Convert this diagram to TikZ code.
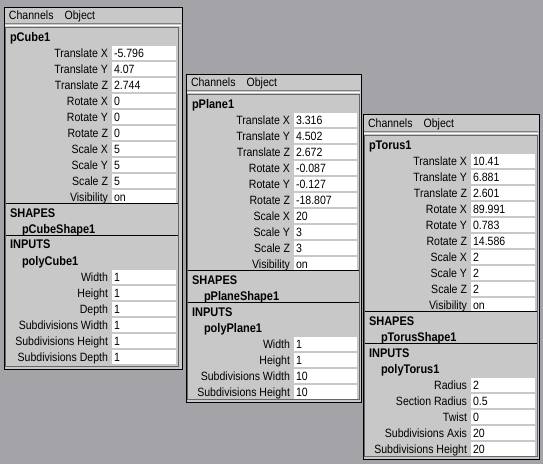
\documentclass[tikz,border=0pt]{standalone}
\usepackage{fontspec}
\setmainfont{Liberation Sans}[FakeStretch=0.88]
\usetikzlibrary{positioning}
\definecolor{DeskGray}{RGB}{163,163,168}
\definecolor{PanelGray}{RGB}{200,200,200}

\begin{document}
\begin{tikzpicture}[x=1pt,y=-1pt, font=\fontsize{12}{14}\selectfont,
    every node/.style={inner sep=0pt, outer sep=0pt},
    chanlabel/.style={anchor=base east},
    chanvalue/.style={anchor=base west},
    menutext/.style={anchor=base west},
    boldname/.style={anchor=base west, font=\fontsize{12.5}{14}\selectfont\bfseries},
    panelbox/.style={fill=PanelGray, draw=black, line width=1pt},
    menurule/.style={draw=black!50, line width=1pt},
    insetbox/.style={draw=black!60, line width=1pt},
    rule/.style={draw=black, line width=1pt}]
  % Desktop background
  \fill[DeskGray] (0,0) rectangle (543,464);
  \useasboundingbox (0,0) rectangle (543,464);

  % Channel box of the cube
  \begin{scope}[shift={(4,7)}]
    \draw[panelbox] (0,0) rectangle (178,362);
    \node[menutext] (ch1) at (5,12.5) {Channels};
    \node[base right=11pt of ch1] (ob1) {Object};
    \draw[menurule] (1,16.5) -- (177,16.5);
    \draw[white] (1,18) -- (177,18);
    \draw[insetbox] (1.5,20.5) rectangle (174,359);
    \node[boldname] (nm1) at (6,34.5) {pCube1};
    \foreach \lab/\val [count=\i from 0] in {Translate X/-5.796, Translate Y/4.07,
        Translate Z/2.744, Rotate X/0, Rotate Y/0, Rotate Z/0, Scale X/5,
        Scale Y/5, Scale Z/5, Visibility/on} {
      \fill[white] (108,{46+16*\i-7.5}) rectangle (172,{46+16*\i+7});
      \node[chanlabel] (l1\i) at (104,{50.5+16*\i}) {\lab};
      \node[chanvalue] (v1\i) at (110,{50.5+16*\i}) {\val};
    }
    \draw[rule] (2,196.5) -- (174,196.5);
    \node[boldname] (sh1) at (6,210.5) {SHAPES};
    \node[boldname] (sn1) at (18,226) {pCubeShape1};
    \draw[rule] (2,228.5) -- (174,228.5);
    \node[boldname] (in1) at (6,241.5) {INPUTS};
    \node[boldname] (pn1) at (18,258.5) {polyCube1};
    \foreach \lab/\val [count=\i from 0] in {Width/1, Height/1, Depth/1,
        Subdivisions Width/1, Subdivisions Height/1, Subdivisions Depth/1} {
      \fill[white] (108,{270+16*\i-7.5}) rectangle (172,{270+16*\i+7});
      \node[chanlabel] (m1\i) at (104,{274.5+16*\i}) {\lab};
      \node[chanvalue] (w1\i) at (110,{274.5+16*\i}) {\val};
    }
  \end{scope}

  % Channel box of the plane
  \begin{scope}[shift={(186,74)}]
    \draw[panelbox] (0,0) rectangle (175,328);
    \node[menutext] (ch2) at (5,12.5) {Channels};
    \node[base right=11pt of ch2] (ob2) {Object};
    \draw[menurule] (1,16.5) -- (174,16.5);
    \draw[white] (1,18) -- (174,18);
    \draw[insetbox] (1.5,20.5) rectangle (173,325);
    \node[boldname] (nm2) at (6,34.5) {pPlane1};
    \foreach \lab/\val [count=\i from 0] in {Translate X/3.316, Translate Y/4.502,
        Translate Z/2.672, Rotate X/-0.087, Rotate Y/-0.127, Rotate Z/-18.807,
        Scale X/20, Scale Y/3, Scale Z/3, Visibility/on} {
      \fill[white] (108,{46+16*\i-7.5}) rectangle (171,{46+16*\i+7});
      \node[chanlabel] (l2\i) at (104,{50.5+16*\i}) {\lab};
      \node[chanvalue] (v2\i) at (110,{50.5+16*\i}) {\val};
    }
    \draw[rule] (2,196.5) -- (173,196.5);
    \node[boldname] (sh2) at (6,210.5) {SHAPES};
    \node[boldname] (sn2) at (18,226) {pPlaneShape1};
    \draw[rule] (2,228.5) -- (173,228.5);
    \node[boldname] (in2) at (6,242.5) {INPUTS};
    \node[boldname] (pn2) at (18,258.5) {polyPlane1};
    \foreach \lab/\val [count=\i from 0] in {Width/1, Height/1,
        Subdivisions Width/10, Subdivisions Height/10} {
      \fill[white] (108,{270+16*\i-7.5}) rectangle (171,{270+16*\i+7});
      \node[chanlabel] (m2\i) at (104,{274.5+16*\i}) {\lab};
      \node[chanvalue] (w2\i) at (110,{274.5+16*\i}) {\val};
    }
  \end{scope}

  % Channel box of the torus
  \begin{scope}[shift={(363,114)}]
    \draw[panelbox] (0,0) rectangle (176,345);
    \node[menutext] (ch3) at (5,13.5) {Channels};
    \node[base right=11pt of ch3] (ob3) {Object};
    \draw[menurule] (1,17.5) -- (175,17.5);
    \draw[white] (1,19) -- (175,19);
    \draw[insetbox] (1.5,21.5) rectangle (174,342);
    \node[boldname] (nm3) at (6,35.5) {pTorus1};
    \foreach \lab/\val [count=\i from 0] in {Translate X/10.41, Translate Y/6.881,
        Translate Z/2.601, Rotate X/89.991, Rotate Y/0.783, Rotate Z/14.586,
        Scale X/2, Scale Y/2, Scale Z/2, Visibility/on} {
      \fill[white] (108,{47+16*\i-7.5}) rectangle (172,{47+16*\i+7});
      \node[chanlabel] (l3\i) at (104,{51.5+16*\i}) {\lab};
      \node[chanvalue] (v3\i) at (110,{51.5+16*\i}) {\val};
    }
    \draw[rule] (2,197.5) -- (174,197.5);
    \node[boldname] (sh3) at (6,211.5) {SHAPES};
    \node[boldname] (sn3) at (18,227) {pTorusShape1};
    \draw[rule] (2,229.5) -- (174,229.5);
    \node[boldname] (in3) at (6,243.5) {INPUTS};
    \node[boldname] (pn3) at (18,259.5) {polyTorus1};
    \foreach \lab/\val [count=\i from 0] in {Radius/2, Section Radius/0.5,
        Twist/0, Subdivisions Axis/20, Subdivisions Height/20} {
      \fill[white] (108,{271+16*\i-7.5}) rectangle (172,{271+16*\i+7});
      \node[chanlabel] (m3\i) at (104,{275.5+16*\i}) {\lab};
      \node[chanvalue] (w3\i) at (110,{275.5+16*\i}) {\val};
    }
  \end{scope}
\end{tikzpicture}
\end{document}
